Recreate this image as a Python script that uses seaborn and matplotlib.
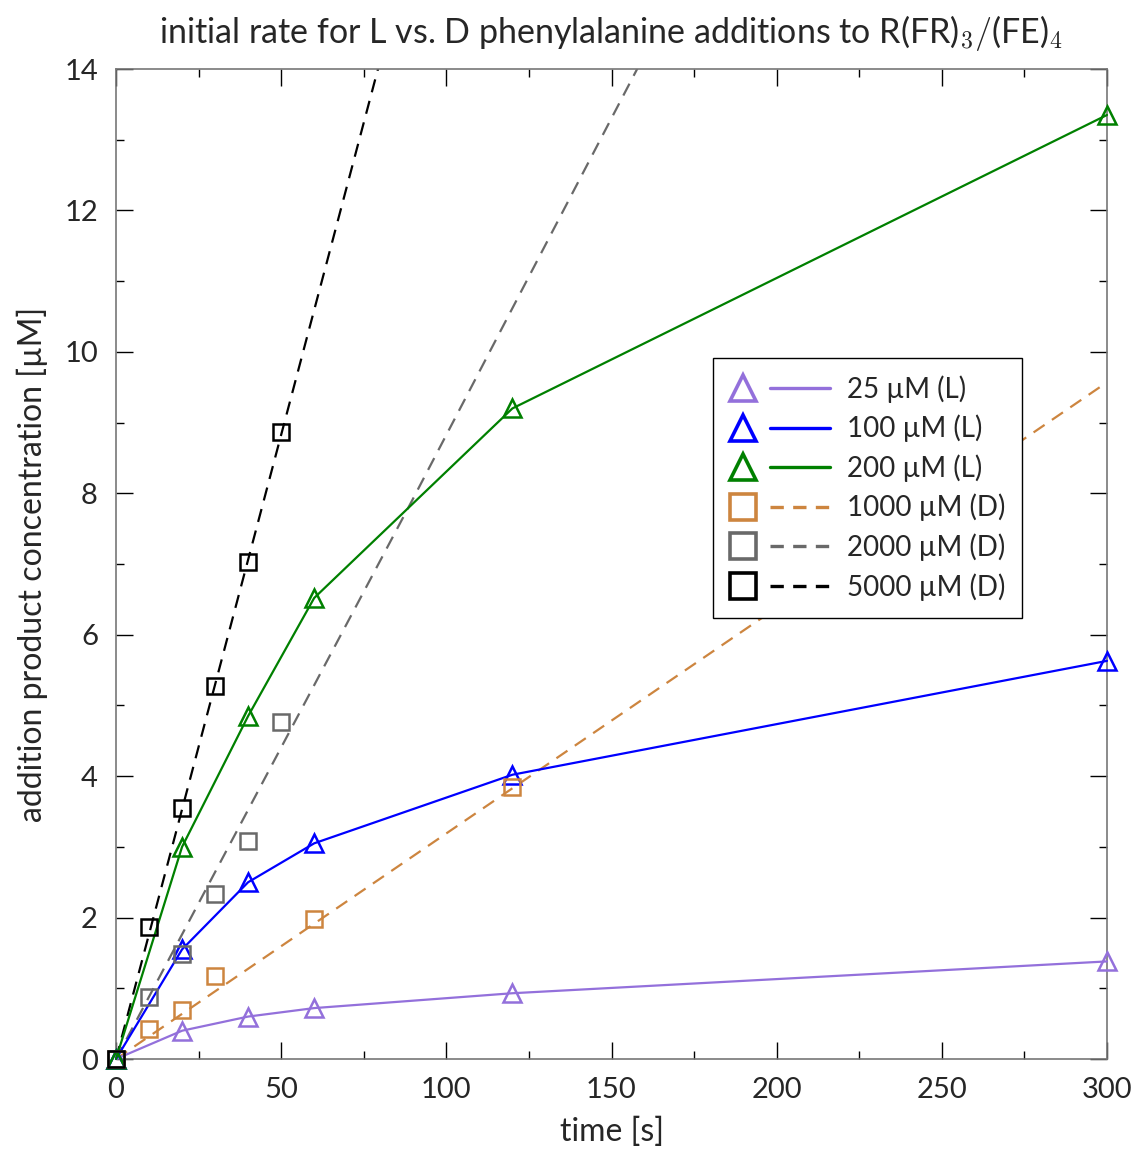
import matplotlib
matplotlib.use("Agg")
import matplotlib.pyplot as plt
from matplotlib.lines import Line2D
from matplotlib.legend_handler import HandlerBase
from matplotlib.ticker import MultipleLocator
import seaborn as sns

# --- data -------------------------------------------------------------
t_L = [0, 20, 40, 60, 120, 300]
y_25L = [0, 0.40, 0.60, 0.72, 0.93, 1.38]
y_100L = [0, 1.55, 2.50, 3.05, 4.02, 5.63]
y_200L = [0, 3.00, 4.85, 6.52, 9.20, 13.35]

t_1000D = [0, 10, 20, 30, 60, 120]
y_1000D = [0, 0.43, 0.70, 1.17, 1.98, 3.85]
t_2000D = [0, 10, 20, 30, 40, 50]
y_2000D = [0, 0.87, 1.48, 2.33, 3.08, 4.77]
t_5000D = [0, 10, 20, 30, 40, 50]
y_5000D = [0, 1.87, 3.55, 5.27, 7.03, 8.87]

# linear fits to the D series (end points of each fit line)
fit_1000D_t = [0, 300]
fit_1000D_y = [0, 9.57]
fit_2000D_t = [0, 90, 160]
fit_2000D_y = [0, 7.93, 14.2]
fit_5000D_t = [0, 81]
fit_5000D_y = [0, 14.3]

labels = ["25 µM (L)", "100 µM (L)", "200 µM (L)",
          "1000 µM (D)", "2000 µM (D)", "5000 µM (D)"]
colors = ["#9370DB", "#0000FF", "#008000", "#CD853F", "#696969", "#000000"]

# --- style ------------------------------------------------------------
sns.set_theme(style="ticks")
plt.rcParams["font.family"] = ["Lato", "DejaVu Sans"]
plt.rcParams["mathtext.fontset"] = "cm"

fig = plt.figure(figsize=(11.31, 11.56), dpi=100)
ax = fig.add_axes([116 / 1131, 1 - 1059 / 1156, 991 / 1131, 990 / 1156])

LW = 1.6
MS = 13
MEW = 1.8

for y, c in zip([y_25L, y_100L, y_200L], colors[:3]):
    sns.lineplot(x=t_L, y=y, ax=ax, color=c, linewidth=LW, marker="^",
                 markersize=MS, markeredgewidth=MEW, markerfacecolor="none",
                 markeredgecolor=c, estimator=None, sort=False, legend=False,
                 clip_on=False, zorder=3)

for (ft, fy), c in zip([(fit_1000D_t, fit_1000D_y), (fit_2000D_t, fit_2000D_y),
                        (fit_5000D_t, fit_5000D_y)], colors[3:]):
    sns.lineplot(x=ft, y=fy, ax=ax, color=c, linewidth=LW,
                 linestyle=(0, (6, 4)), estimator=None, sort=False, legend=False)

for (tt, yy), c in zip([(t_1000D, y_1000D), (t_2000D, y_2000D),
                        (t_5000D, y_5000D)], colors[3:]):
    sns.lineplot(x=tt, y=yy, ax=ax, color=c, linestyle="none", marker="s",
                 markersize=MS - 1, markeredgewidth=MEW, markerfacecolor="none",
                 markeredgecolor=c, estimator=None, sort=False, legend=False,
                 clip_on=False, zorder=4)

ax.set_xlim(0, 300)
ax.set_ylim(0, 14)
ax.xaxis.set_major_locator(MultipleLocator(50))
ax.xaxis.set_minor_locator(MultipleLocator(25))
ax.yaxis.set_major_locator(MultipleLocator(2))
ax.yaxis.set_minor_locator(MultipleLocator(1))
ax.tick_params(which="both", direction="in", top=True, right=True,
               color="black", width=1)
ax.tick_params(which="major", length=12, labelsize=21, pad=13)
ax.tick_params(which="minor", length=6)
for s in ax.spines.values():
    s.set_color("#777777")
    s.set_linewidth(1.2)

ax.set_xlabel("time [s]", fontsize=23, labelpad=10)
ax.set_ylabel("addition product concentration [µM]", fontsize=23, labelpad=12)
ax.set_title("initial rate for L vs. D phenylalanine additions to "
             "R(FR)$_3/$(FE)$_4$", fontsize=24.5, pad=19)


class MarkerThenLine(HandlerBase):
    """Legend key: open marker on the left, line sample on the right."""

    def create_artists(self, legend, orig_handle, xdescent, ydescent,
                       width, height, fontsize, trans):
        yc = height / 2 - ydescent
        mk = Line2D([0.13 * width - xdescent], [yc], linestyle="none",
                    marker=orig_handle.get_marker(), markersize=19,
                    markeredgewidth=2.6, markerfacecolor="white",
                    markeredgecolor=orig_handle.get_color(), transform=trans)
        ln = Line2D([0.40 * width - xdescent, width - xdescent], [yc, yc],
                    color=orig_handle.get_color(), linewidth=2.4,
                    linestyle=orig_handle.get_linestyle(), transform=trans)
        if orig_handle.get_linestyle() != "-":
            ln.set_dashes((4, 2.8))
        return [ln, mk]


handles = []
for i, c in enumerate(colors):
    handles.append(Line2D([], [], color=c, marker="^" if i < 3 else "s",
                          linestyle="-" if i < 3 else "--"))

leg = ax.legend(handles, labels, handler_map={Line2D: MarkerThenLine()},
                loc="upper left", bbox_to_anchor=(597 / 991, 701 / 990),
                borderaxespad=0, fontsize=20, handlelength=3.6,
                handletextpad=0.6, labelspacing=0.43, borderpad=0.62,
                fancybox=False, framealpha=1, edgecolor="black")
leg.get_frame().set_linewidth(1.0)

fig.savefig("out.png", dpi=100)
